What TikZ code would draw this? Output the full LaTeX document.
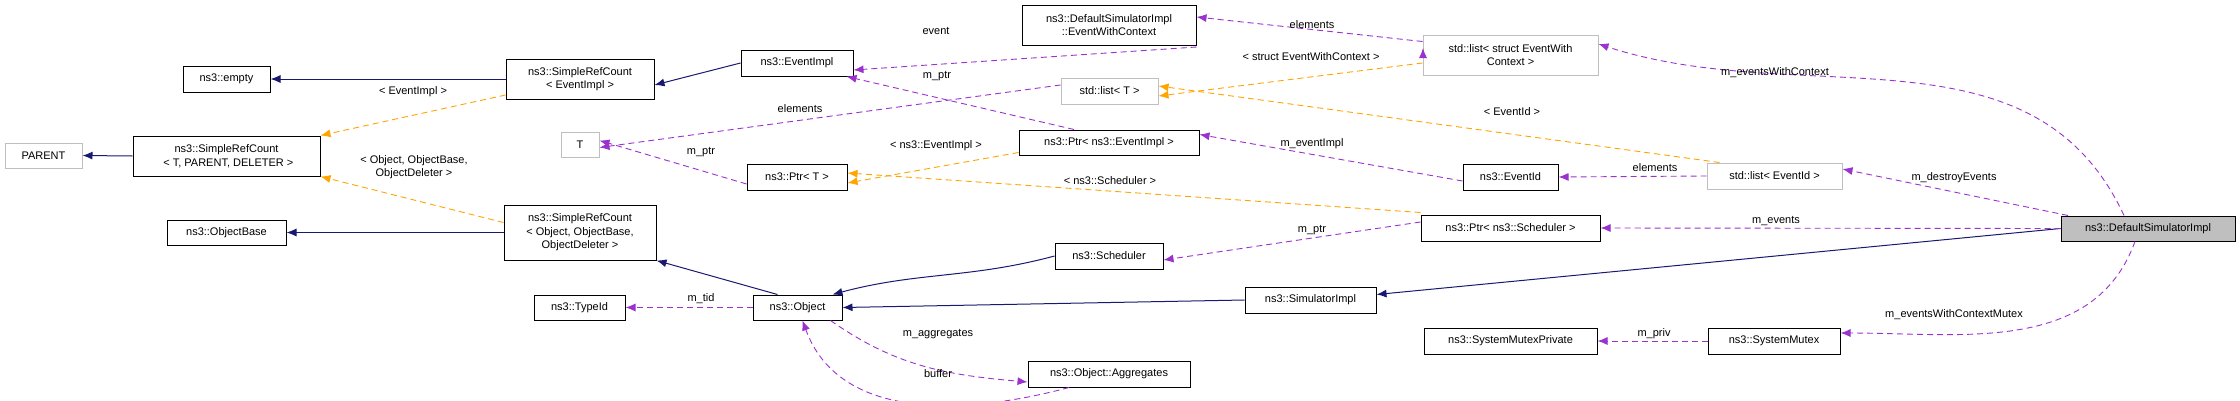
\documentclass[tikz,border=0pt]{standalone}
\usepackage{fontspec}
\setmainfont{Liberation Sans}
\usetikzlibrary{arrows.meta}
\definecolor{navy}{HTML}{191970}
\definecolor{purp}{HTML}{9A32CD}
\definecolor{orng}{HTML}{FFA500}
\definecolor{gbord}{HTML}{BFBFBF}
\begin{document}
\begin{tikzpicture}[x=1pt,y=-1pt,
  every node/.style={font=\fontsize{11}{13.5}\selectfont, inner sep=0pt},
  box/.style={draw=black, line width=1pt, fill=white, align=center},
  gbox/.style={draw=gbord, line width=1pt, fill=white, align=center},
  arr/.style={-{Latex[length=10pt,width=8pt]}},
  inh/.style={arr, draw=navy, line width=1pt},
  use/.style={arr, draw=purp, line width=0.9pt, dash pattern=on 6pt off 4pt},
  tpl/.style={arr, draw=orng, line width=0.9pt, dash pattern=on 6pt off 4pt},
  lbl/.style={fill=none, align=center}]
\useasboundingbox (0,0) rectangle (2240,400);
% nodes
\node[gbox, minimum width=77, minimum height=25] (parent) at (43.5,155.5) {PARENT};
\node[box, minimum width=187, minimum height=40] (srcTPD) at (226.5,156) {ns3::SimpleRefCount\\\,\,\textless{} T, PARENT, DELETER \textgreater};
\node[box, minimum width=87, minimum height=26] (empty) at (226.5,79) {ns3::empty};
\node[box, minimum width=148, minimum height=40] (srcEI) at (580,79) {ns3::SimpleRefCount\\\textless{} EventImpl \textgreater};
\node[box, minimum width=119, minimum height=25] (objbase) at (226.5,232.5) {ns3::ObjectBase};
\node[box, minimum width=152, minimum height=55] (srcObj) at (580,232.5) {ns3::SimpleRefCount\\\textless{} Object, ObjectBase,\\ObjectDeleter \textgreater};
\node[gbox, minimum width=38, minimum height=25] (T) at (580,144.5) {T};
\node[box, minimum width=91, minimum height=25] (typeid) at (579.5,307.5) {ns3::TypeId};
\node[box, minimum width=112, minimum height=26] (eventimpl) at (797,63) {ns3::EventImpl};
\node[box, minimum width=174, minimum height=40] (ewc) at (1109,25) {ns3::DefaultSimulatorImpl\\::EventWithContext};
\node[gbox, minimum width=97, minimum height=26] (listT) at (1109.5,91) {std::list\textless{} T \textgreater};
\node[box, minimum width=180, minimum height=25] (ptrEI) at (1109,142.5) {ns3::Ptr\textless{} ns3::EventImpl \textgreater};
\node[box, minimum width=100, minimum height=26] (ptrT) at (797,177) {ns3::Ptr\textless{} T \textgreater};
\node[box, minimum width=108, minimum height=26] (sched) at (1109,256) {ns3::Scheduler};
\node[box, minimum width=89, minimum height=25] (object) at (797.5,307.5) {ns3::Object};
\node[box, minimum width=131, minimum height=26] (simimpl) at (1310.5,300) {ns3::SimulatorImpl};
\node[box, minimum width=162, minimum height=26] (aggr) at (1109,374) {ns3::Object::Aggregates};
\node[gbox, minimum width=175, minimum height=40] (listEWC) at (1510.5,55) {std::list\textless{} struct EventWith\\Context \textgreater};
\node[box, minimum width=179, minimum height=26] (ptrSched) at (1510.5,228) {ns3::Ptr\textless{} ns3::Scheduler \textgreater};
\node[box, minimum width=173, minimum height=26] (smp) at (1510.5,341) {ns3::SystemMutexPrivate};
\node[box, minimum width=95, minimum height=26] (eventid) at (1510.5,177) {ns3::EventId};
\node[gbox, minimum width=135, minimum height=26] (listEId) at (1774.5,176) {std::list\textless{} EventId \textgreater};
\node[box, fill=gbord, minimum width=174, minimum height=25] (dsi) at (2148,228.5) {ns3::DefaultSimulatorImpl};
\node[box, minimum width=132, minimum height=26] (smutex) at (1774,341) {ns3::SystemMutex};
% inheritance
\draw[inh] (srcTPD.west) -- (parent.east);
\draw[inh] (srcEI.west) -- (empty.east);
\draw[inh] (srcObj.west) -- (objbase.east);
\draw[inh] (eventimpl.west) -- ([yshift=-6pt]srcEI.east);
\draw[inh] ([xshift=-20pt]object.north) -- (srcObj.south east);
\draw[inh] (sched.west) to[out=195,in=15] ([xshift=-10pt]object.north east);
\draw[inh] (simimpl.west) -- (object.east);
\draw[inh] (dsi.west) -- ([yshift=-8pt]simimpl.north east);
% template instantiation
\draw[tpl] ([yshift=-16pt]srcEI.west) -- (srcTPD.north east);
\draw[tpl] ([yshift=-18pt]srcObj.north west) -- (srcTPD.south east);
\draw[tpl] ([yshift=-8pt]listEWC.west) -- ([yshift=-5pt]listT.east);
\draw[tpl] ([xshift=-55pt]listEId.north) -- ([yshift=5pt]listT.east);
\draw[tpl] ([yshift=-10pt]ptrEI.west) -- ([yshift=-6pt]ptrT.east);
\draw[tpl] ([yshift=2pt]ptrSched.north west) -- ([yshift=4pt]ptrT.east);
% usage
\draw[use] ([yshift=-11pt]ewc.east |- 0,36) -- ([yshift=-7pt]eventimpl.east);
\draw[use] ([xshift=0pt]1423,48) coordinate (e1) ;
\draw[use] ([yshift=-7pt]listEWC.north west) -- ([yshift=8pt]ewc.east);
\draw[use] ([xshift=-35pt]ptrEI.north) -- ([xshift=-7pt]eventimpl.south east);
\draw[use] ([yshift=6pt]listT.west) -- ([yshift=-3pt]T.east);
\draw[use] ([yshift=-7pt]ptrT.west) -- ([yshift=4pt]T.east);
\draw[use] (object.west) -- (typeid.east);
\draw[use] ([xshift=-12pt]object.south east) to[out=-35,in=175] ([yshift=-8pt]aggr.west);
\draw[use] ([xshift=-40pt]aggr.south) to[out=195,in=-70] ([xshift=5pt]object.south);
\draw[use] ([yshift=6pt]ptrSched.west) -- ([yshift=-4pt]sched.east);
\draw[use] ([yshift=-4pt]eventid.west) -- ([yshift=8pt]ptrEI.east);
\draw[use] (listEId.west) -- (eventid.east);
\draw[use] ([xshift=-24pt]dsi.north) to[out=115,in=-18] ([yshift=11pt]listEWC.east);
\draw[use] ([xshift=-80pt]dsi.north) -- ([yshift=7pt]listEId.east);
\draw[use] (dsi.west) -- (ptrSched.east);
\draw[use] ([xshift=-13pt]dsi.south) to[out=-110,in=0] ([yshift=8pt]smutex.east);
\draw[use] (smutex.west) -- (smp.east);
% labels
\node[lbl] (l1) at (936,31) {event};
\node[lbl] (l2) at (1312,25) {elements};
\node[lbl] (l3) at (1311,57) {\textless{} struct EventWithContext \textgreater};
\node[lbl] (l4) at (937,76) {m\_ptr};
\node[lbl] (l5) at (800,109) {elements};
\node[lbl] (l6) at (413,92) {\textless{} EventImpl \textgreater};
\node[lbl] (l7) at (414,167) {\textless{} Object, ObjectBase,\\ObjectDeleter \textgreater};
\node[lbl] (l8) at (701,152) {m\_ptr};
\node[lbl] (l9) at (936,146) {\textless{} ns3::EventImpl \textgreater};
\node[lbl] (l10) at (1110,181) {\textless{} ns3::Scheduler \textgreater};
\node[lbl] (l11) at (1312,144) {m\_eventImpl};
\node[lbl] (l12) at (1512,112) {\textless{} EventId \textgreater};
\node[lbl] (l13) at (1655,168) {elements};
\node[lbl] (l14) at (1775,73) {m\_eventsWithContext};
\node[lbl] (l15) at (1954,178) {m\_destroyEvents};
\node[lbl] (l16) at (1776,221) {m\_events};
\node[lbl] (l17) at (1312,230) {m\_ptr};
\node[lbl] (l18) at (1954,315) {m\_eventsWithContextMutex};
\node[lbl] (l19) at (1654,334) {m\_priv};
\node[lbl] (l20) at (701,299) {m\_tid};
\node[lbl] (l21) at (938,334) {m\_aggregates};
\node[lbl] (l22) at (938,374) {buffer};
\end{tikzpicture}
\end{document}
